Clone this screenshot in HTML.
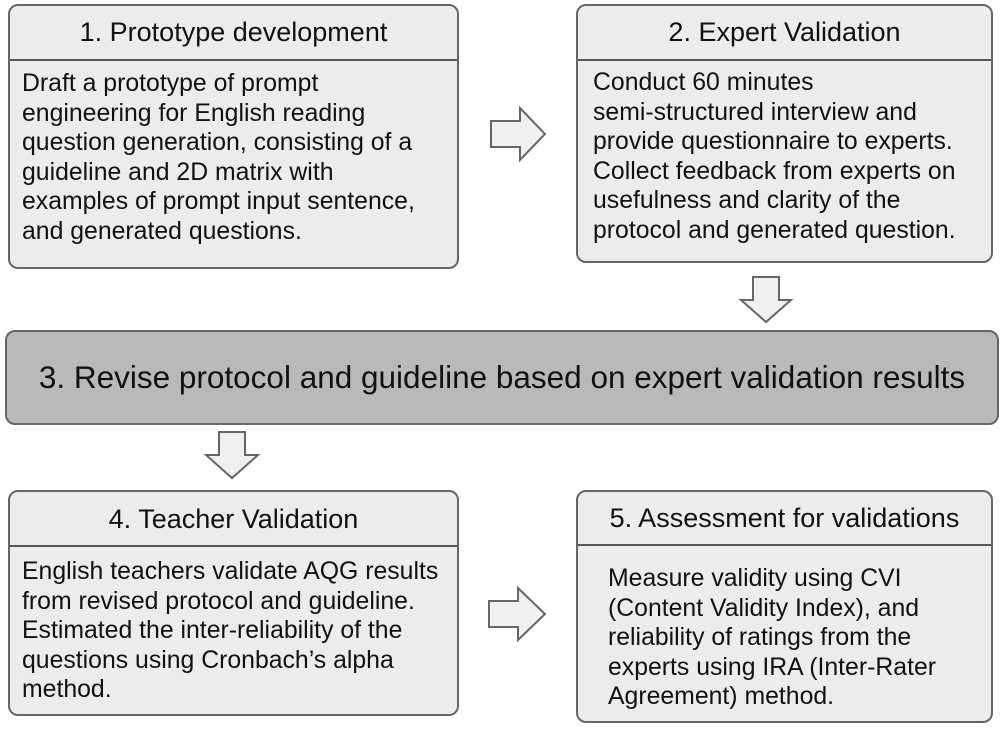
<!DOCTYPE html>
<html><head><style>
body{margin:0;width:1005px;height:735px;background:#fff;font-family:"Liberation Sans",sans-serif;color:#111;position:relative;overflow:hidden}
.box{position:absolute;border:2px solid #666;border-radius:10px;background:#ececec;box-sizing:border-box;overflow:hidden}
.hd{border-bottom:2px solid #555;text-align:center;font-size:27px;box-sizing:border-box;white-space:nowrap}
.bd{font-size:24.8px;line-height:29.5px;padding:0 12px;white-space:nowrap}
svg{position:absolute;left:0;top:0}
</style></head><body>
<div class="box" style="left:8px;top:4px;width:451px;height:265px">
<div class="hd" style="height:55px;line-height:52px">1. Prototype development</div>
<div class="bd" style="padding-top:8px">Draft a prototype of prompt<br>engineering for English reading<br>question generation, consisting of a<br>guideline and 2D matrix with<br>examples of prompt input sentence,<br>and generated questions.</div></div>
<div class="box" style="left:576px;top:4px;width:417px;height:259px">
<div class="hd" style="height:55px;line-height:52px">2. Expert Validation</div>
<div class="bd" style="padding-top:7px;padding-left:15px">Conduct 60 minutes<br>semi-structured interview and<br>provide questionnaire to experts.<br>Collect feedback from experts on<br>usefulness and clarity of the<br>protocol and generated question.</div></div>
<div class="box" style="left:5px;top:330px;width:994px;height:95px;background:#b9b9b9;text-align:center;font-size:31.5px;line-height:91px;white-space:nowrap">3. Revise protocol and guideline based on expert validation results</div>
<div class="box" style="left:8px;top:490px;width:451px;height:226px">
<div class="hd" style="height:55px;line-height:54px">4. Teacher Validation</div>
<div class="bd" style="padding-top:10px">English teachers validate AQG results<br>from revised protocol and guideline.<br>Estimated the inter-reliability of the<br>questions using Cronbach’s alpha<br>method.</div></div>
<div class="box" style="left:576px;top:490px;width:417px;height:233px">
<div class="hd" style="height:54px;line-height:52px">5. Assessment for validations</div>
<div class="bd" style="padding-top:18px;padding-left:30px">Measure validity using CVI<br>(Content Validity Index), and<br>reliability of ratings from the<br>experts using IRA (Inter-Rater<br>Agreement) method.</div></div>
<svg width="1005" height="735" fill="#f0f0f0" stroke="#666" stroke-width="2">
<polygon points="491,121 520,121 520,108 545,134 520,160 520,147 491,147"/>
<polygon points="489,601 518,601 518,588 545,614 518,640 518,627 489,627"/>
<polygon points="753,277 779,277 779,300 791,300 766,322 741,300 753,300"/>
<polygon points="219,432 245,432 245,455 258,455 232,478 206,455 219,455"/>
</svg>
</body></html>
